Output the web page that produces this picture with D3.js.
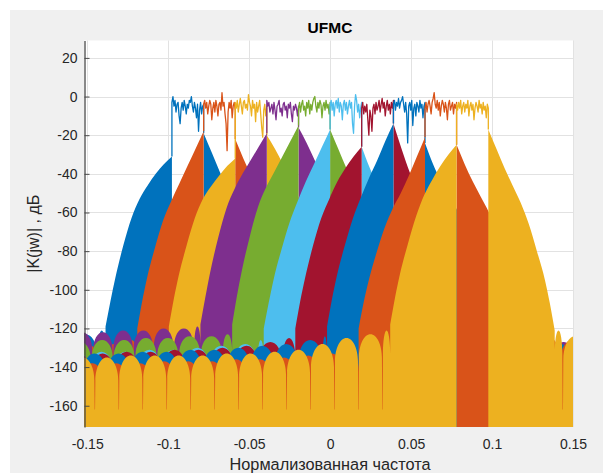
<!DOCTYPE html>
<html>
<head>
<meta charset="utf-8">
<script src="https://cdn.jsdelivr.net/npm/d3@7"></script>
<style>
  html, body { margin: 0; padding: 0; background: #ffffff; }
  svg { display: block; font-family: "Liberation Sans", Arial, Helvetica, sans-serif; }
</style>
</head>
<body>
<svg id="chart" width="603" height="473"></svg>
<script>
// ---------------------------------------------------------------
// UFMC spectrum: ten 20-subcarrier subbands (FFT 1024), magnitude in dB
// ---------------------------------------------------------------

// subband edges, normalised frequency
const bandEdges = [-0.0977, -0.0781, -0.0586, -0.0391, -0.0195, 0, 0.0195, 0.0391, 0.0586, 0.0781, 0.0977];

// in-band magnitude of each subband (dB), evenly spaced across the band
const inBandDb = [
  [-3, 0, -5, -2, -8, -4, -3, -10, -14, -6, -3, -7, -2, -5, -9, -4, -6, -2, -3, 0, -5, -8, -3, -6, -11, -4, -18, -7, -3, -9, -5, -4],
  [-4, -2, -6, -3, -9, -5, -2, -4, -12, -6, -3, -8, -2, -5, -10, -4, -3, -7, 2, -5, -3, -9, -14, -28, -8, -3, -6, -2, -11, -5, -3, -7],
  [-3, -6, -2, -8, -4, -1, -5, -9, -3, -2, -6, -4, -7, 1, -3, -5, -10, -2, -6, -4, -13, -3, -8, -5, -2, -9, -16, -21, -7, -4, -10, -5],
  [-2, -5, -3, -8, -6, -4, -9, -3, -7, -12, -5, -4, -2, -8, -6, -10, -4, -3, -7, -5, -11, -4, -6, -3, -9, -13, -5, -7, -4, -6, -10, -5],
  [-6, -3, -8, -4, -2, -7, -5, -10, -3, -6, -2, -9, -4, -7, -3, -1, 0, -5, -8, -3, -6, -2, -4, -11, -5, -3, -7, -2, -6, -4, -9, -3],
  [-5, -2, -7, -3, -10, -4, -2, -6, -1, -8, -3, -5, -12, -4, -2, -7, -3, -9, -5, -2, -6, -3, -14, -19, -5, 1, -2, -8, -4, -11, -6, -3],
  [-6, -3, -9, -5, -8, -4, -12, -20, -7, -10, -18, -6, -4, -9, -3, -7, -5, -2, -8, -4, -1, -6, -3, -10, -5, -2, -7, -4, -9, -3, -6, -2],
  [-4, -2, -7, -3, -5, -1, -6, -3, -2, 0, -4, -8, -3, -9, -24, -5, -3, -7, -2, -15, -6, -4, -10, -3, -5, -8, -2, -6, -4, -11, -5, -3],
  [-6, -3, -8, -4, -2, -5, -9, -3, -1, 2, -4, -6, -2, -7, -3, -10, -5, -2, -4, -8, -3, -6, -12, -4, -2, -7, -5, -3, -9, -4, -6, -3],
  [-4, -7, -3, -6, -2, -9, -5, -3, -8, -4, -6, -2, -10, -5, -3, -7, -4, -12, -6, -3, -5, -8, -2, -6, -4, -9, -3, -7, -5, -11, -4, -6]
];

// filter roll-off outside each band: distance from the band edge and level (dB)
const skirtOffset = [0, 0.005, 0.01, 0.015, 0.02, 0.025, 0.03, 0.035, 0.038, 0.041];
const leftSkirtDb = [
  [-31, -35, -40, -46, -53, -63, -77, -94, -106, -119],
  [-18, -27, -36, -45, -54, -64, -78, -94, -106, -120],
  [-32, -36, -41, -46.5, -53, -63, -77, -93, -105, -119],
  [-19, -26, -33, -40, -48, -58, -73, -91, -104, -118],
  [-15, -23, -31, -39, -47, -57, -72, -90, -103, -118],
  [-17, -26, -35, -44, -54, -65, -79, -95, -107, -120],
  [-26, -31, -37, -44, -53, -63, -77, -94, -106, -120],
  [-14, -23, -33, -42, -52, -63, -77, -93, -105, -119],
  [-21, -31, -41, -50, -58, -68, -81, -96, -107, -120],
  [-25, -30, -36, -43, -51, -62, -76, -92, -104, -118]
];
const rightSkirtDb = [
  [-19, -29, -39, -48, -56, -66, -79, -95, -107, -120],
  [-22, -32, -41, -49, -57, -67, -80, -95, -107, -120],
  [-20, -27, -35, -44, -53, -64, -78, -94, -106, -119],
  [-16, -24, -33, -42, -51, -62, -76, -92, -104, -119],
  [-17, -27, -37, -46, -55, -66, -79, -94, -106, -120],
  [-26, -37, -46, -53, -60, -70, -82, -96, -107, -120],
  [-14, -27, -39, -49, -58, -68, -81, -95, -107, -120],
  [-24, -35, -44, -52, -59, -69, -81, -95, -107, -120],
  [-25, -35, -44, -52, -60, -70, -82, -96, -107, -120],
  [-17, -27, -37, -46, -55, -66, -80, -95, -107, -121]
];

// far sidelobes: lobe width, width of the lobe next to the skirt,
// lobe height above the null floor, depth of the nulls (dB)
const lobeSpacing = [0.0148, 0.0148, 0.0148, 0.0125, 0.0135, 0.0148, 0.0148, 0.0148, 0.0148, 0.0148];
const leftLobeGap  = [0.005, 0.007, 0.006, 0.004, 0.006, 0.004, 0.008, 0.003, 0.009, 0.0048];
const rightLobeGap = [0.005, 0.008, 0.006, 0.004, 0.005, 0.007, 0.004, 0.006, 0.008, 0.005];
const lobeDepth = [10, 10, 10, 9, 9, 10, 10, 10, 11, 12];
const notchDb = [-160, -160, -160, -158, -158, -160, -160, -160, -162, -162];

// sidelobe peak levels (dB), nearest to the band first
const leftLobeDb = [
  [-121, -123, -124],
  [-126, -128, -129, -130],
  [-126, -128, -130, -131, -132, -132],
  [-119, -120, -120, -121, -121, -122, -122, -123],
  [-123, -124, -124, -125, -125, -126, -126, -127, -127],
  [-126, -128, -129, -130, -131, -131, -132, -132, -132, -133],
  [-125, -127, -129, -130, -131, -131, -132, -132, -133, -133, -133],
  [-124, -126, -128, -129, -130, -131, -131, -132, -132, -133, -133, -133],
  [-131, -133, -134, -135, -136, -136, -137, -137, -137, -138, -138, -138, -138],
  [-121, -123, -125, -128, -131, -132, -133, -133, -134, -134, -134, -134, -135, -135, -135]
];
const rightLobeDb = [
  [-122, -125, -127, -128, -129, -130, -130, -131, -131, -131, -132, -132, -132, -132, -132],
  [-123, -126, -128, -129, -130, -130, -131, -131, -132, -132, -132, -132, -132],
  [-124, -126, -128, -129, -130, -131, -131, -132, -132, -132, -133, -133],
  [-119, -120, -121, -122, -122, -123, -123, -124, -125, -126, -127, -127],
  [-122, -124, -125, -126, -126, -127, -127, -128, -129, -129],
  [-124, -127, -128, -129, -130, -130, -131, -131],
  [-123, -125, -126, -127, -128, -129, -129],
  [-122, -124, -126, -128, -129],
  [-121, -124, -126, -127],
  [-121, -124, -125]
];

// axes
const xTickValues = [-0.15, -0.1, -0.05, 0, 0.05, 0.1, 0.15];
const xTickLabels = ["-0.15", "-0.1", "-0.05", "0", "0.05", "0.1", "0.15"];
const yTickValues = [20, 0, -20, -40, -60, -80, -100, -120, -140, -160];
const xDomain = [-0.152, 0.15];
const yDomain = [-171, 29];

const seriesColors = ["#0072BD", "#D95319", "#EDB120", "#7E2F8E", "#77AC30",
                      "#4DBEEE", "#A2142F", "#0072BD", "#D95319", "#EDB120"];

// ---------------------------------------------------------------
const svg = d3.select("#chart");
const plotL = 84, plotR = 573, plotT = 40.5, plotB = 427;

const x = d3.scaleLinear().domain(xDomain).range([plotL, plotR]);
const y = d3.scaleLinear().domain(yDomain).range([plotB, plotT]);

// figure background
svg.append("rect").attr("x", 10).attr("y", 10).attr("width", 593).attr("height", 463)
  .attr("fill", "#f0f0f0");
// axes background
svg.append("rect").attr("x", plotL).attr("y", plotT)
  .attr("width", plotR - plotL).attr("height", plotB - plotT).attr("fill", "#ffffff");

// grid
const grid = svg.append("g").attr("stroke", "#e2e2e2").attr("stroke-width", 1);
grid.selectAll("line.gx").data(xTickValues).join("line")
  .attr("x1", d => Math.round(x(d)) + 0.5).attr("x2", d => Math.round(x(d)) + 0.5)
  .attr("y1", plotT).attr("y2", plotB);
grid.selectAll("line.gy").data(yTickValues).join("line")
  .attr("y1", d => Math.round(y(d)) + 0.5).attr("y2", d => Math.round(y(d)) + 0.5)
  .attr("x1", plotL).attr("x2", plotR);

svg.append("clipPath").attr("id", "plotClip")
  .append("rect").attr("x", plotL).attr("y", plotT)
  .attr("width", plotR - plotL).attr("height", plotB - plotT);

const plotG = svg.append("g").attr("clip-path", "url(#plotClip)");

// one sidelobe as a half-ellipse from (xl,yb) over the peak to (xr,yb)
function arch(p, xl, xr, yb, yp) {
  const rx = (xr - xl) / 2, xm = xl + rx, h = yb - yp, c = 0.5523;
  p.bezierCurveTo(xl, yb - c * h, xm - c * rx, yp, xm, yp);
  p.bezierCurveTo(xm + c * rx, yp, xr, yb - c * h, xr, yb);
}

// smooth skirt continuing the current sub-path
function skirt(p, pts) {
  const ctx = {
    moveTo: (a, b) => p.lineTo(a, b),
    lineTo: (a, b) => p.lineTo(a, b),
    bezierCurveTo: (a, b, c, d, e, f) => p.bezierCurveTo(a, b, c, d, e, f),
    closePath: () => {}
  };
  d3.line().x(d => x(d[0])).y(d => y(d[1])).curve(d3.curveMonotoneX).context(ctx)(pts);
}

// out-of-band part of subband i: skirts plus sidelobes, filled to the bottom
function outOfBandPath(i) {
  const p = d3.path();
  const yBot = plotB + 4;
  const s = lobeSpacing[i], depth = lobeDepth[i], yN = y(notchDb[i]);
  const lastOff = skirtOffset[skirtOffset.length - 1];

  // lower side of the band
  const eL = bandEdges[i];
  const lp = leftLobeDb[i];
  const KL = lp.length;
  const ln = [eL - lastOff, eL - lastOff - leftLobeGap[i]];
  for (let k = 2; k <= KL; k++) ln.push(ln[k - 1] - s);
  p.moveTo(x(ln[KL]), yBot);
  for (let k = KL - 1; k >= 0; k--) {
    const xl = x(ln[k + 1]), xr = x(ln[k]);
    const yb = y(lp[k] - depth), yp = y(lp[k]);
    const padL = k < KL - 1 ? 0.5 : 0, padR = k > 0 ? 0.5 : 0;
    if (k === KL - 1) p.lineTo(xl, yb);
    arch(p, xl + padL, xr - padR, yb, yp);
    if (k > 0) {
      p.lineTo(xr - 0.2, yN);
      p.lineTo(xr + 0.2, yN);
      p.lineTo(xr + 0.5, y(lp[k - 1] - depth));
    }
  }
  const leftPts = skirtOffset.map((o, j) => [eL - o, leftSkirtDb[i][j]]).reverse();
  skirt(p, leftPts);
  p.lineTo(x(eL), yBot);
  p.closePath();

  // upper side of the band
  const eR = bandEdges[i + 1];
  const rp = rightLobeDb[i];
  const KR = rp.length;
  const rn = [eR + lastOff, eR + lastOff + rightLobeGap[i]];
  for (let k = 2; k <= KR; k++) rn.push(rn[k - 1] + s);
  p.moveTo(x(eR), yBot);
  const rightPts = skirtOffset.map((o, j) => [eR + o, rightSkirtDb[i][j]]);
  skirt(p, rightPts);
  for (let k = 0; k < KR; k++) {
    const xl = x(rn[k]), xr = x(rn[k + 1]);
    const yb = y(rp[k] - depth), yp = y(rp[k]);
    const padL = k > 0 ? 0.5 : 0, padR = k < KR - 1 ? 0.5 : 0;
    if (k === 0) p.lineTo(xl, yb);
    arch(p, xl + padL, xr - padR, yb, yp);
    if (k < KR - 1) {
      p.lineTo(xr - 0.2, yN);
      p.lineTo(xr + 0.2, yN);
      p.lineTo(xr + 0.5, y(rp[k + 1] - depth));
    }
  }
  p.lineTo(x(rn[KR]), yBot);
  p.closePath();
  return p.toString();
}

const bandLine = d3.line().x(d => x(d[0])).y(d => y(d[1]));

inBandDb.forEach((vals, i) => {
  const eL = bandEdges[i], eR = bandEdges[i + 1];
  const n = vals.length;
  const pts = [[eL, leftSkirtDb[i][0]]]
    .concat(vals.map((v, j) => [eL + j * (eR - eL) / (n - 1), v]))
    .concat([[eR, rightSkirtDb[i][0]]]);
  const g = plotG.append("g").attr("class", "subband");
  g.append("path").attr("d", outOfBandPath(i)).attr("fill", seriesColors[i]);
  g.append("path").attr("d", bandLine(pts)).attr("fill", "none")
    .attr("stroke", seriesColors[i]).attr("stroke-width", 1.3).attr("stroke-linejoin", "round");
});

// y axis (ticks point into the plot)
const yAxis = d3.axisLeft(y).tickValues(yTickValues).tickFormat(d => String(d))
  .tickSizeInner(-5).tickSizeOuter(0).tickPadding(7);
const yAxisG = svg.append("g").attr("transform", `translate(${plotL + 0.5},0)`).call(yAxis);
yAxisG.select(".domain").attr("stroke", "#4a4a4a").attr("stroke-width", 1.3);
yAxisG.selectAll(".tick line").attr("stroke", "#4a4a4a");
yAxisG.selectAll(".tick text").attr("fill", "#262626").attr("font-size", 14)
  .attr("font-family", "Liberation Sans, Arial, sans-serif");

// x axis (labels only)
const xAxis = d3.axisBottom(x).tickValues(xTickValues).tickFormat((d, i) => xTickLabels[i])
  .tickSize(0).tickPadding(12);
const xAxisG = svg.append("g").attr("transform", `translate(0,${plotB})`).call(xAxis);
xAxisG.select(".domain").remove();
xAxisG.selectAll(".tick text").attr("fill", "#262626").attr("font-size", 14)
  .attr("font-family", "Liberation Sans, Arial, sans-serif");

// titles
svg.append("text").attr("x", 330).attr("y", 32.5).attr("text-anchor", "middle")
  .attr("font-size", 15.5).attr("font-weight", "bold").attr("fill", "#000")
  .text("UFMC");
svg.append("text").attr("x", 330).attr("y", 470).attr("text-anchor", "middle")
  .attr("font-size", 16.3).attr("fill", "#262626")
  .text("Нормализованная частота");
svg.append("text").attr("transform", `translate(39,${(plotT + plotB) / 2}) rotate(-90)`)
  .attr("text-anchor", "middle").attr("font-size", 16).attr("fill", "#262626")
  .text("|K(jw)| , дБ");
</script>
</body>
</html>
